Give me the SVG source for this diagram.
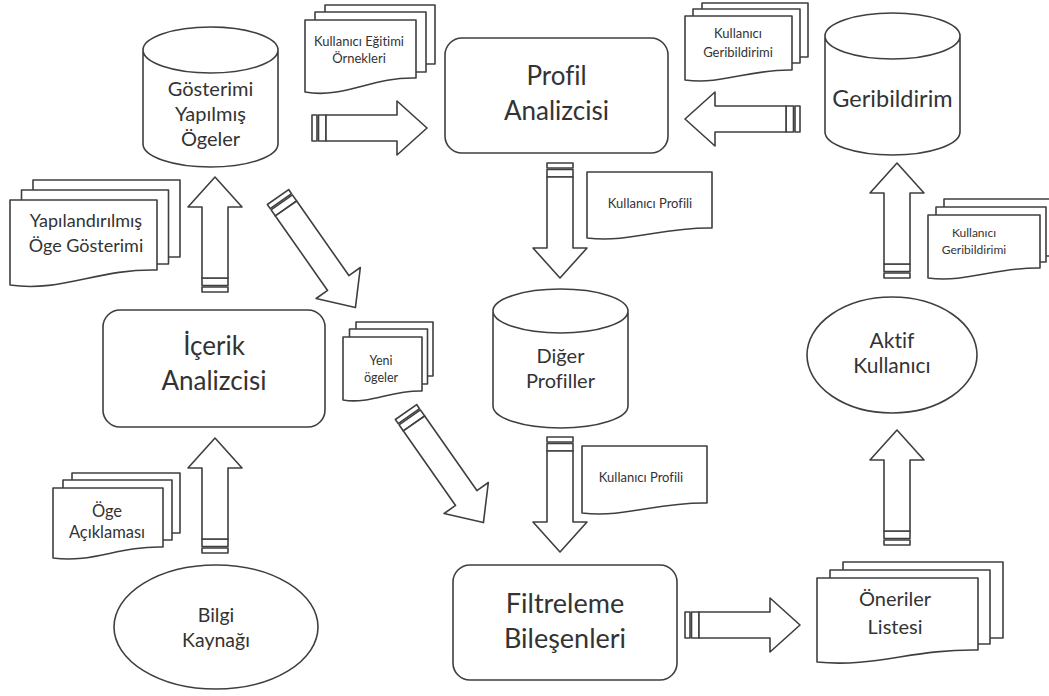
<svg xmlns="http://www.w3.org/2000/svg" xmlns:xlink="http://www.w3.org/1999/xlink" width="1049" height="696" viewBox="0 0 1049 696">
<style>
.s{fill:#fff;stroke:#3f3f3f;stroke-width:1.6;stroke-linejoin:round}
.t{font-family:Lato,"Open Sans",sans-serif;fill:#333;text-anchor:middle;font-variant-ligatures:none}
.big{font-size:26px}
.mid{font-size:20px}
.sm{font-size:13px}
</style>
<defs>
<g id="arr115">
<rect class="s" x="0" y="-13" width="5" height="26"/>
<rect class="s" x="6.5" y="-13" width="7.5" height="26"/>
<path class="s" d="M14,-13 H85 V-27 L115,0 L85,27 V13 H14 Z"/>
</g>
<g id="arr135">
<rect class="s" x="0" y="-13" width="5" height="26"/>
<rect class="s" x="6.5" y="-13" width="7.5" height="26"/>
<path class="s" d="M14,-13 H105 V-27 L135,0 L105,27 V13 H14 Z"/>
</g>
</defs>
<rect width="1049" height="696" fill="#fff"/>

<g id="connectors">
<use xlink:href="#arr115" href="#arr115" transform="translate(312,128)"/>
<use xlink:href="#arr115" href="#arr115" transform="translate(800,119) rotate(180)"/>
<use xlink:href="#arr115" href="#arr115" transform="translate(560,163) rotate(90)"/>
<use xlink:href="#arr115" href="#arr115" transform="translate(215,292) rotate(-90)"/>
<use xlink:href="#arr135" href="#arr135" transform="translate(278,197) rotate(55)"/>
<use xlink:href="#arr135" href="#arr135" transform="translate(406,412) rotate(55)"/>
<use xlink:href="#arr115" href="#arr115" transform="translate(560,437) rotate(90)"/>
<use xlink:href="#arr115" href="#arr115" transform="translate(215,553) rotate(-90)"/>
<use xlink:href="#arr115" href="#arr115" transform="translate(685,625)"/>
<use xlink:href="#arr115" href="#arr115" transform="translate(897,545) rotate(-90)"/>
<use xlink:href="#arr115" href="#arr115" transform="translate(897,278) rotate(-90)"/>
</g>

<g id="gosterimi-yapilmis-ogeler">
<path class="s" d="M143,50 V144 A67.5,23 0 0 0 278,144 V50 A67.5,23 0 0 0 143,50 A67.5,23 0 0 0 278,50"/>
<text class="t mid" x="210.5" y="96">Gösterimi</text>
<text class="t mid" x="210.5" y="121">Yapılmış</text>
<text class="t mid" x="210.5" y="146">Ögeler</text>
</g>

<g id="kullanici-egitimi-ornekleri">
<rect class="s" x="325" y="5" width="110" height="59"/>
<rect class="s" x="315" y="12" width="111" height="60"/>
<path class="s" d="M305,20 H416 V78 C371.6,76.6 343.9,99 305,92 Z"/>
<text class="t sm" x="359" y="46">Kullanıcı Eğitimi</text>
<text class="t sm" x="359" y="63">Örnekleri</text>
</g>

<g id="profil-analizcisi">
<rect class="s" x="445" y="38" width="223" height="115" rx="17"/>
<text class="t big" x="556.5" y="85">Profil</text>
<text class="t big" x="556.5" y="120">Analizcisi</text>
</g>

<g id="kullanici-geribildirimi-1">
<rect class="s" x="702" y="3" width="106" height="54"/>
<rect class="s" x="693" y="9" width="107" height="54"/>
<path class="s" d="M685,16 H792 V70 C749.2,69 722.5,85 685,80 Z"/>
<text class="t sm" x="738" y="38">Kullanıcı</text>
<text class="t sm" x="738" y="57">Geribildirimi</text>
</g>

<g id="geribildirim">
<path class="s" d="M825,36 V132 A67.5,23 0 0 0 960,132 V36 A67.5,23 0 0 0 825,36 A67.5,23 0 0 0 960,36"/>
<text class="t" style="font-size:23.5px" x="892.5" y="107">Geribildirim</text>
</g>

<g id="yapilandirilmis-oge-gosterimi">
<rect class="s" x="33" y="180" width="147" height="77"/>
<rect class="s" x="21.5" y="190" width="147" height="74"/>
<path class="s" d="M10,200 H157 V270 C98.2,268.5 61.5,292.5 10,285 Z"/>
<text class="t" style="font-size:18px" x="86" y="227">Yapılandırılmış</text>
<text class="t" style="font-size:18px" x="86" y="252">Öge Gösterimi</text>
</g>

<g id="kullanici-profili-1">
<path class="s" d="M587,172 H712 V228 C662,227 630.75,243 587,238 Z"/>
<text class="t sm" x="650" y="208">Kullanıcı Profili</text>
</g>

<g id="kullanici-geribildirimi-2">
<rect class="s" x="944" y="199" width="112" height="57"/>
<rect class="s" x="936" y="207" width="110" height="55"/>
<path class="s" d="M928,215 H1040 V268 C995.2,267 967.2,283 928,278 Z"/>
<text class="t" style="font-size:12px" x="974" y="237">Kullanıcı</text>
<text class="t" style="font-size:12px" x="974" y="254">Geribildirimi</text>
</g>

<g id="icerik-analizcisi">
<rect class="s" x="103" y="310" width="222" height="117" rx="17"/>
<text class="t big" x="214" y="355">İçerik</text>
<text class="t big" x="214" y="390">Analizcisi</text>
</g>

<g id="yeni-ogeler">
<rect class="s" x="356" y="322" width="77" height="54"/>
<rect class="s" x="349.5" y="329" width="78" height="55"/>
<path class="s" d="M343,337 H422 V391 C390.4,390.1 370.7,404.5 343,400 Z"/>
<text class="t" style="font-size:12.5px" x="381" y="365">Yeni</text>
<text class="t" style="font-size:12.5px" x="381" y="382">ögeler</text>
</g>

<g id="diger-profiller">
<path class="s" d="M493,311 V406 A67.5,22 0 0 0 628,406 V311 A67.5,22 0 0 0 493,311 A67.5,22 0 0 0 628,311"/>
<text class="t mid" x="560.5" y="363">Diğer</text>
<text class="t mid" x="560.5" y="388">Profiller</text>
</g>

<g id="aktif-kullanici">
<ellipse class="s" cx="892" cy="355" rx="85" ry="58"/>
<text class="t" style="font-size:21px" x="892" y="348">Aktif</text>
<text class="t" style="font-size:21px" x="892" y="373">Kullanıcı</text>
</g>

<g id="kullanici-profili-2">
<path class="s" d="M582,446 H707 V503 C657,502 625.75,518 582,513 Z"/>
<text class="t sm" x="641" y="482">Kullanıcı Profili</text>
</g>

<g id="oge-aciklamasi">
<rect class="s" x="72" y="473" width="108" height="60"/>
<rect class="s" x="63" y="480" width="109" height="60"/>
<path class="s" d="M53,488 H163 V547 C119,545.9 91.5,563.5 53,558 Z"/>
<text class="t" style="font-size:16.5px" x="107" y="517">Öge</text>
<text class="t" style="font-size:16.5px" x="107" y="538">Açıklaması</text>
</g>

<g id="filtreleme-bilesenleri">
<rect class="s" x="453" y="565" width="224" height="115" rx="17"/>
<text class="t" style="font-size:27px" x="565" y="613">Filtreleme</text>
<text class="t" style="font-size:27px" x="565" y="648">Bileşenleri</text>
</g>

<g id="oneriler-listesi">
<rect class="s" x="843" y="562" width="160" height="76"/>
<rect class="s" x="830" y="570" width="160" height="74"/>
<path class="s" d="M817,578 H978 V650 C913.6,648.8 873.4,668 817,662 Z"/>
<text class="t mid" x="895" y="606">Öneriler</text>
<text class="t mid" x="895" y="634">Listesi</text>
</g>

<g id="bilgi-kaynagi">
<ellipse class="s" cx="216" cy="627" rx="102" ry="62"/>
<text class="t" style="font-size:19.5px" x="216" y="622">Bilgi</text>
<text class="t" style="font-size:19.5px" x="216" y="647">Kaynağı</text>
</g>
</svg>
